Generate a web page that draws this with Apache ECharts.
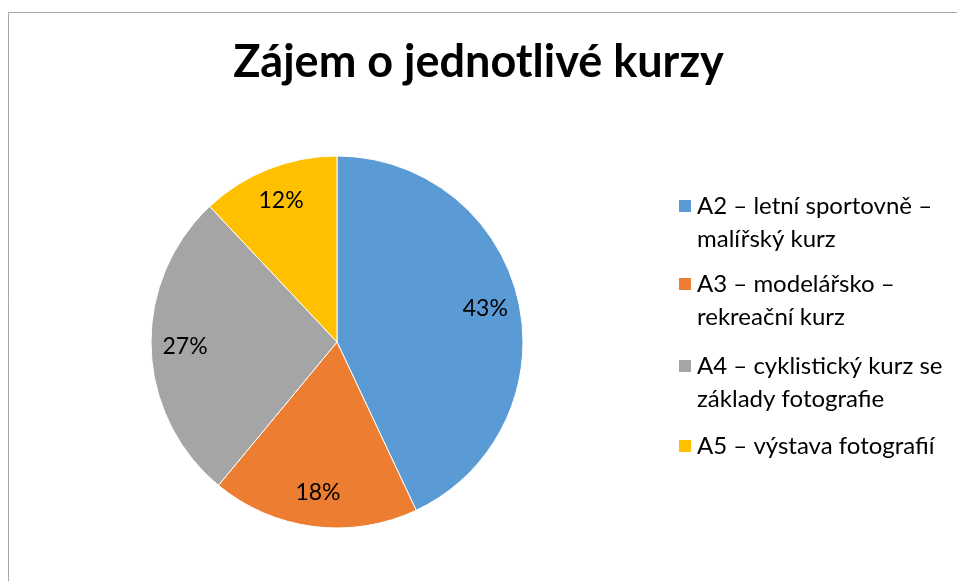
<!DOCTYPE html>
<html>
<head>
<meta charset="utf-8">
<title>Zájem o jednotlivé kurzy</title>
<script src="https://cdn.jsdelivr.net/npm/echarts@6/dist/echarts.min.js"></script>
<style>
  html, body { margin: 0; padding: 0; background: #fff; }
  #chart { width: 957px; height: 581px; }
</style>
</head>
<body>
<div id="chart"></div>
<script>
// data
var courses = [
  'A2 – letní sportovně –\nmalířský kurz',
  'A3 – modelářsko –\nrekreační kurz',
  'A4 – cyklistický kurz se\nzáklady fotografie',
  'A5 – výstava fotografií'
]
var shares = [43, 18, 27, 12]
var colors = ['#5B9BD5', '#ED7D31', '#A5A5A5', '#FFC000']

var font = 'Lato, "Open Sans", sans-serif'
var lineH = 33
// centre of each legend marker (y)
var legendY = [206, 284, 366, 446]

var chart = echarts.init(document.getElementById('chart'))

var pieData = courses.map(function (name, i) {
  return { name: name, value: shares[i], itemStyle: { color: colors[i] } }
})

// one legend per entry so the marker sits beside the first line:
// a blank line on top keeps the marker level with the first text line
var legends = courses.map(function (name, i) {
  var twoLines = name.indexOf('\n') >= 0
  return {
    data: [name],
    orient: 'vertical',
    left: 672,
    top: twoLines ? legendY[i] - lineH * 1.5 - 5 : legendY[i] - lineH / 2 - 5,
    itemWidth: 14,
    itemHeight: 14,
    itemGap: 0,
    icon: 'rect',
    selectedMode: false,
    formatter: function (n) {
      return n.indexOf('\n') >= 0 ? ' \n' + n : n
    },
    textStyle: {
      fontFamily: font,
      fontSize: 24,
      color: '#000',
      lineHeight: lineH
    }
  }
})

var option = {
  animation: false,
  title: {
    text: 'Zájem o jednotlivé kurzy',
    left: 'center',
    top: 35,
    textStyle: {
      fontFamily: font,
      fontSize: 45,
      fontWeight: 'bold',
      color: '#000'
    }
  },
  legend: legends,
  graphic: [{
    type: 'rect',
    shape: { x: 8.5, y: 12.5, width: 1200, height: 1200 },
    style: { fill: 'none', stroke: '#a6a6a6', lineWidth: 1 },
    silent: true
  }],
  series: [
    {
      type: 'pie',
      center: [337, 342],
      radius: [0, 186],
      startAngle: 90,
      label: { show: false },
      labelLine: { show: false },
      itemStyle: { borderColor: '#fff', borderWidth: 1 },
      data: pieData
    },
    {
      // transparent ring only used to place the percentage labels
      type: 'pie',
      silent: true,
      center: [337, 342],
      radius: [112, 186],
      startAngle: 90,
      itemStyle: { color: 'rgba(0,0,0,0)' },
      label: {
        show: true,
        position: 'inside',
        formatter: '{c}%',
        fontFamily: font,
        fontSize: 23,
        color: '#000'
      },
      labelLine: { show: false },
      data: courses.map(function (name, i) {
        return { name: name, value: shares[i] }
      })
    }
  ]
}

chart.setOption(option)
</script>
</body>
</html>
